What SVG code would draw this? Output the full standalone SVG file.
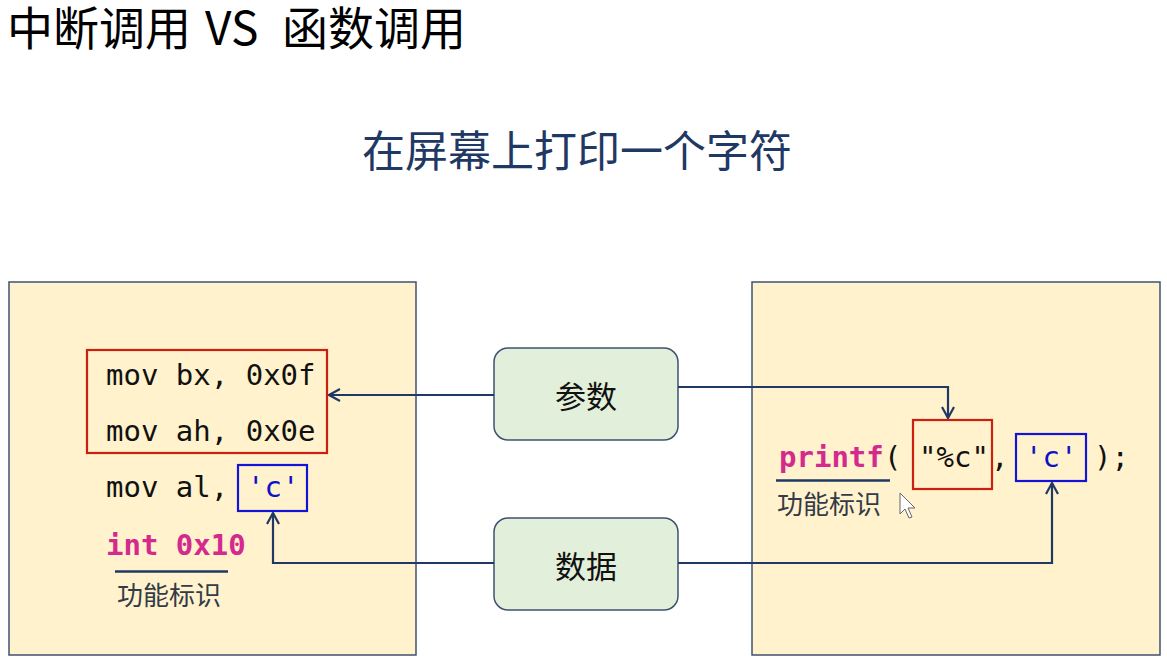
<svg xmlns="http://www.w3.org/2000/svg" width="1167" height="664" viewBox="0 0 1167 664">
<defs>
<style>
.panel{fill:#fff2cc;stroke:#3e5371;stroke-width:1.5}
.node{fill:#e2efda;stroke:#3e5371;stroke-width:1.5}
.cjk{font-family:"Noto Sans CJK SC","Noto Sans",sans-serif}
.mono{font-family:"DejaVu Sans Mono","Liberation Mono",monospace;font-size:29px;fill:#111}
.kw{fill:#d42a8e;font-weight:bold}
.blue{fill:#1010c8}
.rbox{fill:none;stroke:#cc1f10;stroke-width:2.2}
.bbox{fill:none;stroke:#1414d8;stroke-width:2.2}
.conn{fill:none;stroke:#1f3864;stroke-width:2.2}
.label{font-size:26px;fill:#333a48}
</style>
<marker id="arr" viewBox="0 0 14 14" refX="13" refY="7" markerWidth="14" markerHeight="14" markerUnits="userSpaceOnUse" orient="auto">
<path d="M2,1 L13,7 L2,13" fill="none" stroke="#1f3864" stroke-width="2.2"/>
</marker>
</defs>
<rect width="1167" height="664" fill="#ffffff"/>
<g id="title">
<text y="45" class="cjk" font-size="46" fill="#000"><tspan x="7">中断调用</tspan><tspan x="205">VS</tspan><tspan x="282">函数调用</tspan></text>
</g>
<g id="subtitle">
<text x="577" y="167" class="cjk" font-size="43" fill="#1f3864" text-anchor="middle">在屏幕上打印一个字符</text>
</g>
<g id="left-panel">
<rect class="panel" x="9" y="282" width="407" height="373"/>
<rect class="rbox" x="87" y="350" width="240" height="103"/>
<text class="mono" x="106" y="385">mov bx, 0x0f</text>
<text class="mono" x="106" y="441">mov ah, 0x0e</text>
<text class="mono" x="106" y="497">mov al,</text>
<rect class="bbox" x="238" y="465" width="69" height="46"/>
<text class="mono blue" x="247" y="497">'c'</text>
<text class="mono kw" x="106" y="555">int 0x10</text>
<line x1="115" y1="571.5" x2="228" y2="571.5" stroke="#1f3864" stroke-width="2.5"/>
<text class="cjk label" x="117" y="605">功能标识</text>
</g>
<g id="right-panel">
<rect class="panel" x="752" y="282" width="408" height="373"/>
<text class="mono kw" x="779" y="467">printf</text>
<text class="mono" x="884" y="467">(</text>
<rect class="rbox" x="913" y="420" width="79" height="69"/>
<text class="mono" x="919" y="467">"%c"</text>
<text class="mono" x="991" y="467">,</text>
<rect class="bbox" x="1016" y="434" width="70" height="47"/>
<text class="mono blue" x="1025" y="467">'c'</text>
<text class="mono" x="1094" y="467">);</text>
<line x1="776" y1="480.5" x2="890" y2="480.5" stroke="#1f3864" stroke-width="2.5"/>
<text class="cjk label" x="777" y="514">功能标识</text>
<path d="M900,493 L900,514 L905,509 L909,518 L912,517 L908,508 L915,508 Z" fill="#fff" stroke="#666" stroke-width="1"/>
</g>
<g id="node-params">
<rect class="node" x="494" y="348" width="184" height="92" rx="14"/>
<text class="cjk" x="586" y="408" font-size="31" fill="#111" text-anchor="middle">参数</text>
</g>
<g id="node-data">
<rect class="node" x="494" y="518" width="184" height="92" rx="14"/>
<text class="cjk" x="586" y="578" font-size="31" fill="#111" text-anchor="middle">数据</text>
</g>
<g id="connectors">
<path class="conn" d="M494,395 L329,395" marker-end="url(#arr)"/>
<path class="conn" d="M678,387 L948,387 L948,418" marker-end="url(#arr)"/>
<path class="conn" d="M494,563 L273,563 L273,513" marker-end="url(#arr)"/>
<path class="conn" d="M678,563 L1052,563 L1052,483" marker-end="url(#arr)"/>
</g>
</svg>
